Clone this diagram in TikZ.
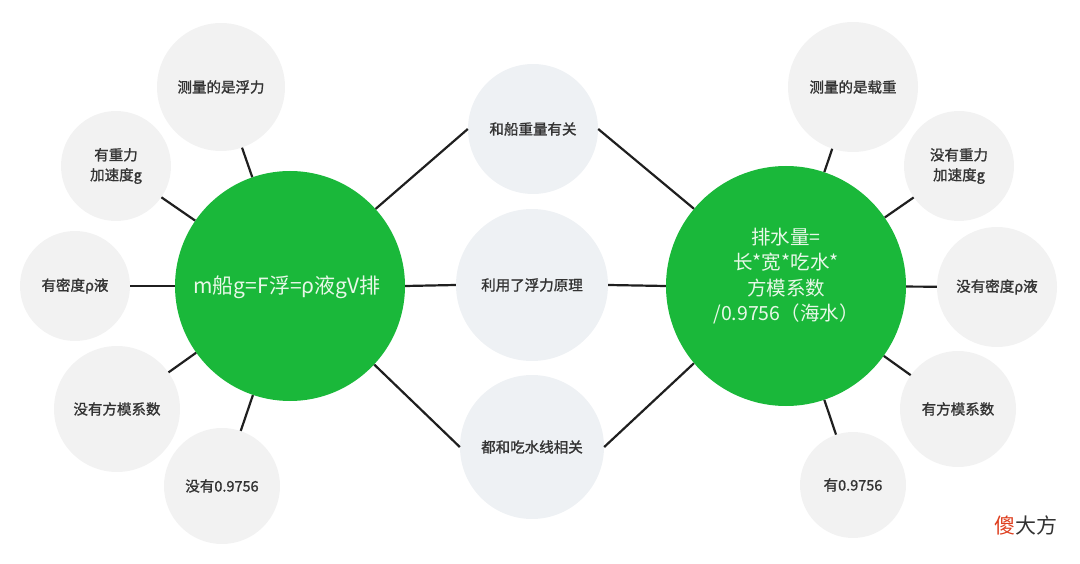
\documentclass[tikz,border=0pt]{standalone}
\usepackage{fontspec}
\setmainfont{Noto Sans CJK SC}
\newfontfamily\medfont[FakeBold=1.2]{Noto Sans CJK SC}
\definecolor{bggreen}{RGB}{26,184,58}
\definecolor{sidegray}{RGB}{242,242,242}
\definecolor{midgray}{RGB}{238,241,244}
\definecolor{txtgray}{RGB}{51,51,51}
\definecolor{wmred}{RGB}{222,62,30}
\definecolor{greentext}{RGB}{232,248,232}
\tikzset{
  bigc/.style={circle,fill=bggreen,inner sep=0pt},
  bigtext/.style={align=center,text=greentext,inner sep=0pt,font=\fontsize{19.5}{25.5}\selectfont},
  sidec/.style={circle,fill=sidegray,inner sep=0pt,align=center,text=txtgray,font=\medfont\fontsize{14.5}{20}\selectfont},
  midc/.style={circle,fill=midgray,inner sep=0pt,align=center,text=txtgray,font=\medfont\fontsize{14.5}{20}\selectfont},
  link/.style={draw=black!88,line width=2.2pt}
}
\begin{document}
\begin{tikzpicture}[x=1pt,y=-1pt]
\useasboundingbox (0,0) rectangle (1080,564);
% main circles
\node[bigc,minimum size=230pt] (L) at (290,286) {};
\node[bigtext,font=\fontsize{21}{25}\selectfont] (Lt) at (287,287) {m船g=F浮=ρ液gV排};
\node[bigc,minimum size=240pt] (R) at (786,286) {};
\node[bigtext] (Rt) at (786,276) {排水量=\\长*宽*吃水*\\方模系数\\/0.9756（海水）};
% middle circles
\node[midc,minimum size=130pt] (M1) at (533,129) {和船重量有关};
\node[midc,minimum size=152pt] (M2) at (532,285) {利用了浮力原理};
\node[midc,minimum size=144pt] (M3) at (532,447) {都和吃水线相关};
% left side circles
\node[sidec,minimum size=128pt] (A1) at (221,87) {测量的是浮力};
\node[sidec,minimum size=110pt] (A2) at (116,166) {有重力\\加速度g};
\node[sidec,minimum size=110pt] (A3) at (75,286) {有密度ρ液};
\node[sidec,minimum size=126pt] (A4) at (117,409) {没有方模系数};
\node[sidec,minimum size=116pt] (A5) at (222,486) {没有0.9756};
% right side circles
\node[sidec,minimum size=130pt] (B1) at (853,87) {测量的是载重};
\node[sidec,minimum size=110pt] (B2) at (959,166) {没有重力\\加速度g};
\node[sidec,minimum size=120pt] (B3) at (997,287) {没有密度ρ液};
\node[sidec,minimum size=116pt] (B4) at (958,409) {有方模系数};
\node[sidec,minimum size=106pt] (B5) at (853,485) {有0.9756};
% connectors
\foreach \n in {A1,A2,A3,A4,A5} \draw[link] (\n) -- (L);
\foreach \n in {B1,B2,B3,B4,B5} \draw[link] (\n) -- (R);
\draw[link] (L.42) -- (M1.west);
\draw[link] (M1.east) -- (R.140);
\draw[link] (L.east) -- (M2.west);
\draw[link] (M2.east) -- (R.west);
\draw[link] (L.-43) -- (M3.west);
\draw[link] (M3.east) -- (R.220);
% watermark
\node[font=\fontsize{21}{21}\selectfont,inner sep=0pt] (wm) at (1026,525) {\textcolor{wmred}{傻}\textcolor{txtgray}{大方}};
\end{tikzpicture}
\end{document}
